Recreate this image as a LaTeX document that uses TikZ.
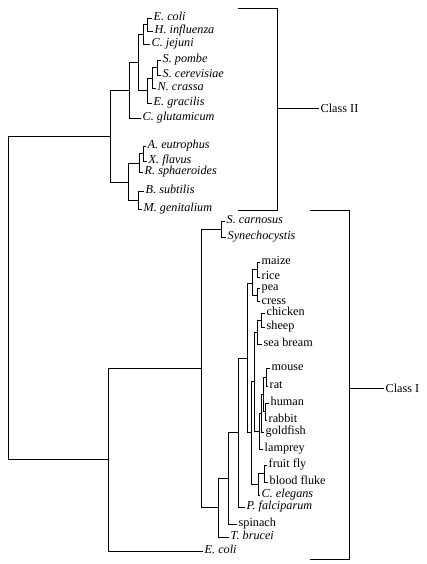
\documentclass[tikz,border=0pt]{standalone}
\usepackage{fontspec}
\setmainfont{Liberation Serif}
\begin{document}
\begin{tikzpicture}[x=1pt,y=-1pt,
  br/.style={line width=0.9pt},
  leaf/.style={anchor=west, inner sep=1.5pt, font=\fontsize{12.2}{14}\selectfont\itshape, text height=8pt, text depth=2.5pt},
  leafr/.style={leaf, font=\fontsize{12.2}{14}\selectfont\upshape},
  cls/.style={anchor=west, inner sep=1.5pt, font=\fontsize{12.2}{14}\selectfont}]
\useasboundingbox (0,0) rectangle (426,564);
% ---------- Class II leaves ----------
\node[leaf] (ecoliA) at (152,18) {E. coli};
\node[leaf] (hinf) at (153,31) {H. influenza};
\node[leaf] (cjej) at (150,44) {C. jejuni};
\node[leaf] (spom) at (161,60) {S. pombe};
\node[leaf] (scer) at (161,75) {S. cerevisiae};
\node[leaf] (ncra) at (156,88) {N. crassa};
\node[leaf] (egra) at (152,103) {E. gracilis};
\node[leaf] (cglu) at (141,118) {C. glutamicum};
\node[leaf] (aeut) at (146,146) {A. eutrophus};
\node[leaf] (xfla) at (147,161) {X. flavus};
\node[leaf] (rsph) at (143,172) {R. sphaeroides};
\node[leaf] (bsub) at (144,191) {B. subtilis};
\node[leaf] (mgen) at (142,209) {M. genitalium};
% ---------- Class II internal ----------
\coordinate (n1) at (147,24.5);
\coordinate (n2) at (143,34);
\coordinate (n3) at (157,67.5);
\coordinate (n4) at (152,78);
\coordinate (n5) at (147,90.5);
\coordinate (n6) at (138,62);
\coordinate (n7) at (129,90);
\coordinate (n8) at (143,153.5);
\coordinate (n9) at (139,163);
\coordinate (n10) at (138,200);
\coordinate (n11) at (128,182);
\coordinate (n12) at (110,136);
% ---------- Class I leaves ----------
\node[leaf] (scar) at (225,221) {S. carnosus};
\node[leaf] (syne) at (226,237) {Synechocystis};
\node[leafr] (maize) at (260,262) {maize};
\node[leafr] (rice) at (260,277) {rice};
\node[leafr] (pea) at (260,288) {pea};
\node[leafr] (cress) at (260,301.5) {cress};
\node[leafr] (chicken) at (265,313) {chicken};
\node[leafr] (sheep) at (265,327) {sheep};
\node[leafr] (bream) at (262,344) {sea bream};
\node[leafr] (mouse) at (270,368) {mouse};
\node[leafr] (rat) at (268,386) {rat};
\node[leafr] (human) at (269,403) {human};
\node[leafr] (rabbit) at (267,420) {rabbit};
\node[leafr] (goldfish) at (264,432) {goldfish};
\node[leafr] (lamprey) at (263,449) {lamprey};
\node[leafr] (fly) at (267,465) {fruit fly};
\node[leafr] (fluke) at (268,482) {blood fluke};
\node[leaf] (celeg) at (260,495) {C. elegans};
\node[leaf] (pfal) at (245,507) {P. falciparum};
\node[leafr] (spinach) at (237,524) {spinach};
\node[leaf] (tbru) at (229,537) {T. brucei};
\node[leaf] (ecoliB) at (203,551) {E. coli};
% ---------- Class I internal ----------
\coordinate (mr) at (257,269.5);
\coordinate (pc) at (257,295);
\coordinate (plants) at (252,283);
\coordinate (cs) at (261,320);
\coordinate (css) at (257,332);
\coordinate (mra) at (266,377);
\coordinate (hra) at (265,411.5);
\coordinate (mam) at (263,394);
\coordinate (gf) at (261,413);
\coordinate (lam) at (259,431);
\coordinate (vert) at (254,381);
\coordinate (ff) at (264,473.5);
\coordinate (ffc) at (258,484);
\coordinate (anim) at (251,432);
\coordinate (A) at (247,358);
\coordinate (X) at (238,432);
\coordinate (Y) at (228,478);
\coordinate (Z) at (218,507);
\coordinate (scsy) at (221,229);
\coordinate (c1) at (201,368);
\coordinate (low) at (108,459.5);
\coordinate (root) at (8,136);
% ---------- branches ----------
\foreach \p/\c in {n1/ecoliA.west, n1/hinf.west, n2/n1, n2/cjej.west,
  n3/spom.west, n3/scer.west, n4/n3, n4/ncra.west, n5/n4, n5/egra.west,
  n6/n2, n6/n5, n7/n6, n7/cglu.west, n8/aeut.west, n8/xfla.west,
  n9/n8, n9/rsph.west, n10/bsub.west, n10/mgen.west, n11/n9, n11/n10,
  n12/n7, n12/n11, root/n12, root/low,
  mr/maize.west, mr/rice.west, pc/pea.west, pc/cress.west, plants/mr, plants/pc,
  cs/chicken.west, cs/sheep.west, css/cs, css/bream.west,
  mra/mouse.west, mra/rat.west, hra/human.west, hra/rabbit.west,
  mam/mra, mam/hra, gf/mam, gf/goldfish.west, lam/gf, lam/lamprey.west,
  vert/css, vert/lam, ff/fly.west, ff/fluke.west, ffc/ff, ffc/celeg.west,
  anim/vert, anim/ffc, A/plants, A/anim, X/A, X/pfal.west,
  Y/X, Y/spinach.west, Z/Y, Z/tbru.west, scsy/scar.west, scsy/syne.west,
  c1/scsy, c1/Z, low/c1, low/ecoliB.west}
  \draw[br] (\p) |- (\c);
% ---------- class brackets ----------
\coordinate (b2t) at (238,8);
\coordinate (b2tr) at (277,8);
\coordinate (b2br) at (277,210);
\coordinate (b2b) at (238,210);
\coordinate (b2m) at (277,108);
\node[cls] (c2) at (319,108) {Class II};
\draw[br] (b2t) -- (b2tr) -- (b2br) -- (b2b);
\draw[br] (b2m) -- (c2.west);
\coordinate (b1t) at (310,210);
\coordinate (b1tr) at (349,210);
\coordinate (b1br) at (349,559);
\coordinate (b1b) at (310,559);
\coordinate (b1m) at (349,388);
\node[cls] (c1l) at (384,388) {Class I};
\draw[br] (b1t) -- (b1tr) -- (b1br) -- (b1b);
\draw[br] (b1m) -- (c1l.west);
\end{tikzpicture}
\end{document}
